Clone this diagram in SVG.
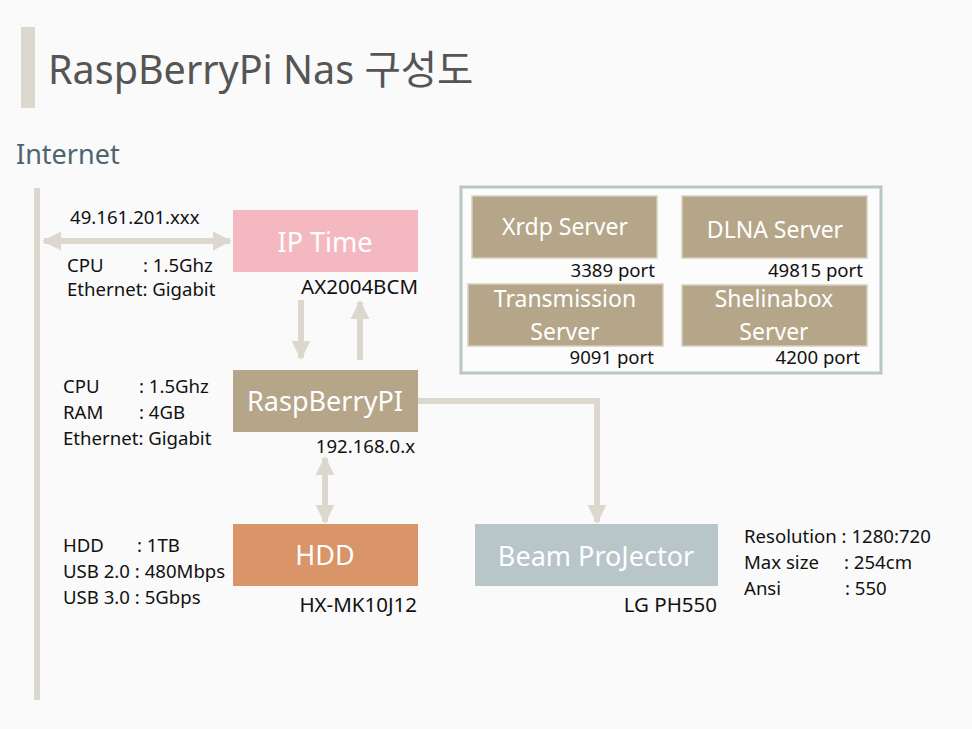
<svg xmlns="http://www.w3.org/2000/svg" width="972" height="729" viewBox="0 0 972 729">
<defs>
<style>
text{font-family:"Noto Sans","Open Sans","Noto Sans CJK KR",sans-serif;}
.lbl{font-size:18.6px;fill:#111;}
.nt{font-size:27px;fill:#fff;text-anchor:middle;}
.st{font-size:23px;fill:#fff;text-anchor:middle;}
.r{text-anchor:end;}
.big{font-size:20.5px;}
.conn{stroke:#ddd8ce;stroke-width:6;fill:none;}
.srv{fill:#b5a68a;stroke:#d6cebd;stroke-width:1.5;}
</style>
<marker id="ah" viewBox="0 0 10 10" refX="9" refY="5" markerWidth="3.2" markerHeight="3.2" orient="auto-start-reverse" markerUnits="strokeWidth">
<path d="M0,0 L10,5 L0,10 Z" fill="#ddd8ce"/>
</marker>
</defs>
<rect width="972" height="729" fill="#fafafa"/>
<g id="title">
<rect x="21" y="27" width="14" height="81" fill="#ddd8ce"/>
<text x="48" y="84" style="font-size:39.5px;fill:#555;">RaspBerryPi Nas 구성도</text>
</g>
<g id="internet">
<text x="16" y="164" style="font-size:27px;fill:#4e6470;">Internet</text>
<rect x="34" y="188" width="6" height="512" fill="#ddd8ce"/>
</g>
<g id="connectors">
<line class="conn" x1="44" y1="241" x2="230" y2="241" marker-start="url(#ah)" marker-end="url(#ah)"/>
<line class="conn" x1="301" y1="300" x2="301" y2="358" marker-end="url(#ah)"/>
<line class="conn" x1="360" y1="360" x2="360" y2="302" marker-end="url(#ah)"/>
<line class="conn" x1="325" y1="458" x2="325" y2="522" marker-start="url(#ah)" marker-end="url(#ah)"/>
<polyline class="conn" points="418,401 597,401 597,522" marker-end="url(#ah)"/>
</g>
<g id="iptime">
<rect x="233" y="210" width="185" height="62" fill="#f4b9c0"/>
<text class="nt" x="325" y="252">IP Time</text>
<text class="lbl" x="70" y="224">49.161.201.xxx</text>
<text class="lbl" x="67" y="272">CPU</text>
<text class="lbl" x="143" y="272">: 1.5Ghz</text>
<text class="lbl" x="67" y="296">Ethernet: Gigabit</text>
<text class="lbl r big" x="418" y="294">AX2004BCM</text>
</g>
<g id="raspberrypi">
<rect x="233" y="370" width="185" height="62" fill="#b5a68a"/>
<text class="nt" x="325" y="411">RaspBerryPI</text>
<text class="lbl" x="63" y="393">CPU</text>
<text class="lbl" x="139" y="393">: 1.5Ghz</text>
<text class="lbl" x="63" y="419">RAM</text>
<text class="lbl" x="139" y="419">: 4GB</text>
<text class="lbl" x="63" y="445">Ethernet: Gigabit</text>
<text class="lbl r" x="415" y="453">192.168.0.x</text>
</g>
<g id="hdd">
<rect x="233" y="524" width="185" height="62" fill="#d99467"/>
<text class="nt" x="325" y="565">HDD</text>
<text class="lbl" x="63" y="552">HDD</text>
<text class="lbl" x="137" y="552">: 1TB</text>
<text class="lbl" x="63" y="578">USB 2.0 : 480Mbps</text>
<text class="lbl" x="63" y="604">USB 3.0 : 5Gbps</text>
<text class="lbl r big" x="417" y="612">HX-MK10J12</text>
</g>
<g id="projector">
<rect x="475" y="524" width="243" height="62" fill="#b8c5c9"/>
<text class="nt" x="596" y="566">Beam ProJector</text>
<text class="lbl r big" x="717" y="612">LG PH550</text>
<text class="lbl" x="744" y="543">Resolution : 1280:720</text>
<text class="lbl" x="744" y="569">Max size</text>
<text class="lbl" x="844" y="569">: 254cm</text>
<text class="lbl" x="744" y="595">Ansi</text>
<text class="lbl" x="845" y="595">: 550</text>
</g>
<g id="servers">
<rect x="461" y="187" width="420" height="186" fill="#fcfcfc" stroke="#b8c5c9" stroke-width="3"/>
</g>
<g id="xrdp">
<rect class="srv" x="472" y="196" width="185" height="62"/>
<text class="st" x="565" y="235">Xrdp Server</text>
<text class="lbl r" x="655" y="277">3389 port</text>
</g>
<g id="dlna">
<rect class="srv" x="682" y="196" width="185" height="62"/>
<text class="st" x="775" y="238">DLNA Server</text>
<text class="lbl r" x="863" y="277">49815 port</text>
</g>
<g id="transmission">
<rect class="srv" x="468" y="284" width="195" height="62"/>
<text class="st" x="565" y="307">Transmission</text>
<text class="st" x="565" y="340">Server</text>
<text class="lbl r" x="654" y="364">9091 port</text>
</g>
<g id="shelinabox">
<rect class="srv" x="682" y="285" width="185" height="61"/>
<text class="st" x="774" y="307">Shelinabox</text>
<text class="st" x="774" y="340">Server</text>
<text class="lbl r" x="860" y="364">4200 port</text>
</g>
</svg>
